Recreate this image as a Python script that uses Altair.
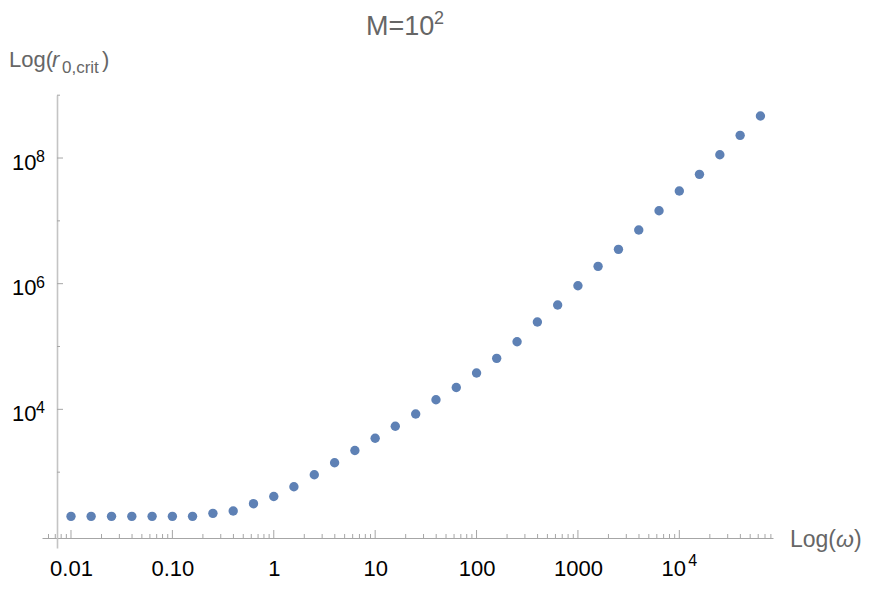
import math
import altair as alt
import pandas as pd

# ---- data ----
omega = [0.01, 0.0158, 0.0251, 0.0398, 0.0631, 0.1, 0.158, 0.251, 0.398, 0.631,
         1, 1.58, 2.51, 3.98, 6.31, 10, 15.8, 25.1, 39.8, 63.1,
         100, 158, 251, 398, 631, 1000, 1580, 2510, 3980, 6310,
         10000, 15800, 25100, 39800, 63100]
r_crit = [198, 198, 198, 198, 198, 198, 198, 221, 241, 315,
          410, 585, 908, 1413, 2213, 3460, 5370, 8430, 14230, 22230,
          37840, 64860, 119100, 245300, 457100, 928800, 1888000, 3520000, 7150000, 14490000,
          29850000, 55000000, 112900000, 229700000, 466000000]

x_tick_values = [0.01, 0.1, 1, 10, 100, 1000, 10000]
x_tick_labels = ["0.01", "0.10", "1", "10", "100", "1000", "10"]
x_exp_values = [10000]
x_exp_labels = ["4"]
x_minor_values = [0.006, 0.007, 0.008, 0.009,
                  0.02, 0.03, 0.04, 0.05, 0.06, 0.07, 0.08, 0.09,
                  0.2, 0.3, 0.4, 0.5, 0.6, 0.7, 0.8, 0.9,
                  2, 3, 4, 5, 6, 7, 8, 9,
                  20, 30, 40, 50, 60, 70, 80, 90,
                  200, 300, 400, 500, 600, 700, 800, 900,
                  2000, 3000, 4000, 5000, 6000, 7000, 8000, 9000,
                  20000, 30000, 40000, 50000, 60000, 70000, 80000]
y_tick_values = [1e4, 1e6, 1e8]
y_tick_labels = ["10", "10", "10"]
y_exp_labels = ["4", "6", "8"]
y_minor_values = [1e3, 1e5, 1e7, 1e9]

x_domain = [10 ** -2.286, 10 ** 4.924]
y_domain = [10 ** 1.793, 10 ** 9.003]

FONT = "Liberation Sans"
GRAY_TXT = "#666666"
AXIS_GRAY = "#a6a6a6"
W, H = 731, 453
X_AXIS_OFF = 10   # x axis sits this many px above plot bottom
Y_AXIS_OFF = 15   # y axis sits this many px right of plot left


def label_expr(values, labels):
    expr = "''"
    for v, l in reversed(list(zip(values, labels))):
        expr = f"abs(log(datum.value)/LN10 - ({math.log10(v)})) < 0.01 ? '{l}' : {expr}"
    return expr


df = pd.DataFrame({"omega": omega, "r": r_crit})

xscale = alt.Scale(type="log", domain=x_domain, nice=False)
yscale = alt.Scale(type="log", domain=y_domain, nice=False)

points = alt.Chart(df).mark_circle(size=88, color="#5E81B5", opacity=1).encode(
    x=alt.X("omega:Q", scale=xscale,
            axis=alt.Axis(values=x_tick_values, labelExpr=label_expr(x_tick_values, x_tick_labels),
                          offset=-X_AXIS_OFF, ticks=False, tickSize=0, grid=False, title=None,
                          domainColor=AXIS_GRAY, domainWidth=1,
                          labelFont=FONT, labelFontSize=22, labelColor="black",
                          labelOffset={"condition": {"test": "datum.value > 5000", "value": -6}, "value": 0},
                          labelPadding=20, labelFlush=False, labelOverlap=False)),
    y=alt.Y("r:Q", scale=yscale,
            axis=alt.Axis(values=y_tick_values, labelExpr=label_expr(y_tick_values, y_tick_labels),
                          offset=-Y_AXIS_OFF, ticks=False, tickSize=0, grid=False, title=None,
                          domainColor="#c4c4c4", domainWidth=1.6,
                          labelFont=FONT, labelFontSize=22, labelColor="black",
                          labelOffset=4,
                          labelPadding=21, labelFlush=False, labelOverlap=False)),
)

xmaj = alt.Chart(pd.DataFrame({"v": x_tick_values})).mark_rule(color=AXIS_GRAY, strokeWidth=1).encode(
    x=alt.X("v:Q", scale=xscale),
    y=alt.value(H - X_AXIS_OFF), y2=alt.value(H - X_AXIS_OFF - 8))
xmin = alt.Chart(pd.DataFrame({"v": x_minor_values})).mark_rule(color=AXIS_GRAY, strokeWidth=1).encode(
    x=alt.X("v:Q", scale=xscale),
    y=alt.value(H - X_AXIS_OFF), y2=alt.value(H - X_AXIS_OFF - 4))
ymaj = alt.Chart(pd.DataFrame({"v": y_tick_values})).mark_rule(color=AXIS_GRAY, strokeWidth=1).encode(
    y=alt.Y("v:Q", scale=yscale),
    x=alt.value(Y_AXIS_OFF), x2=alt.value(Y_AXIS_OFF + 6))
ymin = alt.Chart(pd.DataFrame({"v": y_minor_values})).mark_rule(color=AXIS_GRAY, strokeWidth=1).encode(
    y=alt.Y("v:Q", scale=yscale),
    x=alt.value(Y_AXIS_OFF), x2=alt.value(Y_AXIS_OFF + 3))

# superscript exponents of the power-of-ten tick labels
yexp = alt.Chart(pd.DataFrame({"v": y_tick_values, "e": y_exp_labels})).mark_text(
    font=FONT, fontSize=16, align="left", baseline="alphabetic", color="black", dy=4
).encode(y=alt.Y("v:Q", scale=yscale), x=alt.value(-6), text="e:N")
xexp = alt.Chart(pd.DataFrame({"v": x_exp_values, "e": x_exp_labels})).mark_text(
    font=FONT, fontSize=16, align="left", baseline="alphabetic", color="black", dx=9
).encode(x=alt.X("v:Q", scale=xscale), y=alt.value(471), text="e:N")


def txt(text, x, y, size, style="normal", align="left", color=GRAY_TXT):
    return alt.Chart(pd.DataFrame({"t": [text]})).mark_text(
        font=FONT, fontSize=size, fontStyle=style, align=align, baseline="alphabetic", color=color
    ).encode(text="t:N", x=alt.value(x), y=alt.value(y))


title = txt("M=10", 324, -60, 27) + txt("2", 392, -71, 18)
ytitle = (txt("Log(", -33, -28, 22) + txt("r", 10, -28, 22, style="italic")
          + txt("0,crit", 20, -22, 17) + txt(")", 60, -28, 22))
xtitle = (txt("Log(", 748, 452, 23) + txt("\u03c9", 794, 452, 23, style="italic")
          + txt(")", 812, 452, 23))

chart = alt.layer(xmin, xmaj, ymin, ymaj, points, yexp, xexp, title, ytitle, xtitle).properties(
    width=W, height=H,
    autosize=alt.AutoSizeParams(type="none"),
    padding={"left": 34, "top": 87, "right": 91, "bottom": 33},
).configure_view(stroke=None)

chart.save("out.html", embed_options={"renderer": "svg", "actions": False})
